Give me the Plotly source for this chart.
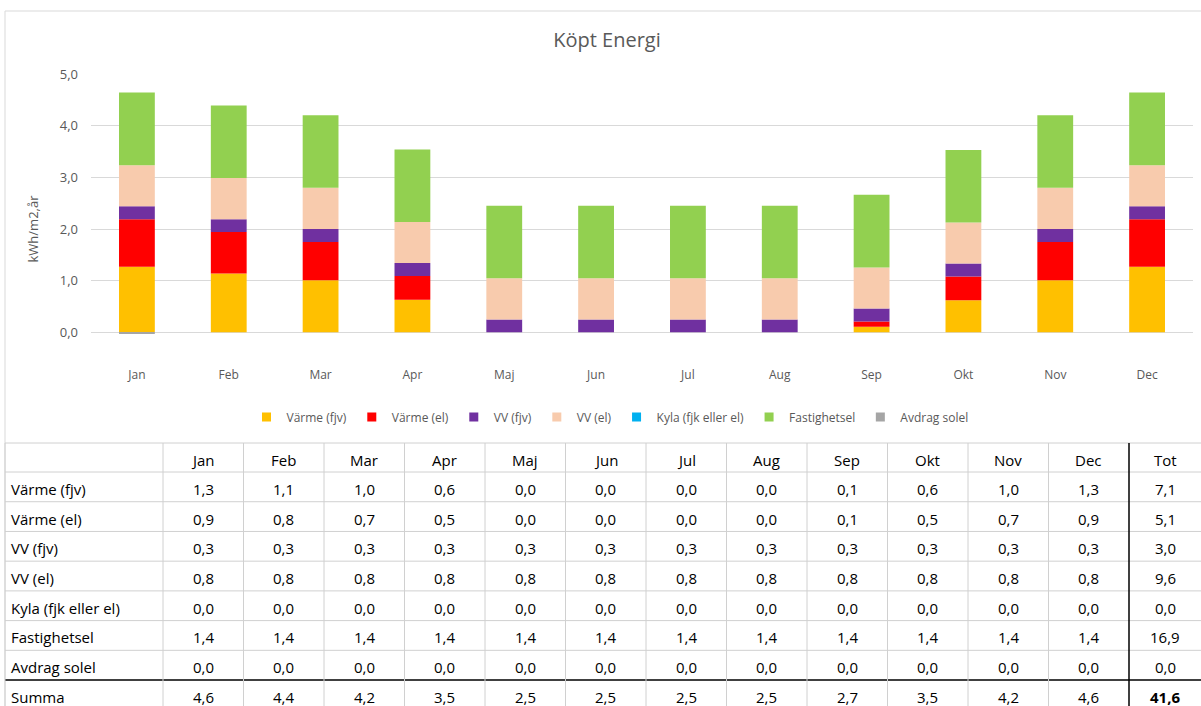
import math
import plotly.graph_objects as go

# ---------------- data ----------------
months = ["Jan", "Feb", "Mar", "Apr", "Maj", "Jun", "Jul", "Aug", "Sep", "Okt", "Nov", "Dec"]
series_names = ["Värme (fjv)", "Värme (el)", "VV (fjv)", "VV (el)",
                "Kyla (fjk eller el)", "Fastighetsel", "Avdrag solel"]
varme_fjv = [1.27, 1.14, 1.01, 0.63, 0.0, 0.0, 0.0, 0.0, 0.11, 0.62, 1.01, 1.27]
varme_el = [0.92, 0.80, 0.74, 0.46, 0.0, 0.0, 0.0, 0.0, 0.10, 0.46, 0.74, 0.92]
vv_fjv = [0.25, 0.25, 0.25, 0.25, 0.25, 0.25, 0.25, 0.25, 0.25, 0.25, 0.25, 0.25]
vv_el = [0.796, 0.796, 0.796, 0.796, 0.796, 0.796, 0.796, 0.796, 0.796, 0.796, 0.796, 0.796]
kyla = [0.0, 0.0, 0.0, 0.0, 0.0, 0.0, 0.0, 0.0, 0.0, 0.0, 0.0, 0.0]
fastighetsel = [1.405, 1.405, 1.405, 1.405, 1.405, 1.405, 1.405, 1.405, 1.405, 1.405, 1.405, 1.405]
avdrag_solel = [-0.03, 0.0, 0.0, 0.0, 0.0, 0.0, 0.0, 0.0, 0.0, 0.0, 0.0, 0.0]
colors = ["#FFC000", "#FF0000", "#7030A0", "#F8CBAD", "#00B0F0", "#92D050", "#A5A5A5"]
y_ticks = [-1, 0, 1, 2, 3, 4, 5]

all_series = [varme_fjv, varme_el, vv_fjv, vv_el, kyla, fastighetsel, avdrag_solel]

W, H = 1201, 706


def px(x):
    return x / W


def py(y):
    return 1 - y / H


def fmt(v):
    r = math.floor(abs(v) * 10 + 0.5 + 1e-9) / 10
    s = f"{r:.1f}"
    if v < 0 and r > 0:
        s = "-" + s
    return s.replace(".", ",")


fig = go.Figure()
for name, vals, col in zip(series_names, all_series, colors):
    fig.add_trace(go.Bar(x=months, y=vals, name=name, legendgroup=name, showlegend=False,
                         marker=dict(color=col, line=dict(width=0))))
# legend entries with small square swatches
for name, col in zip(series_names, colors):
    fig.add_trace(go.Scatter(x=[None], y=[None], mode="markers", name=name, legendgroup=name,
                             marker=dict(symbol="square", size=9, color=col)))

GREY = "#595959"
FONT = "Open Sans"

fig.update_layout(
    width=W, height=H,
    margin=dict(l=0, r=0, t=0, b=0),
    paper_bgcolor="white", plot_bgcolor="white",
    barmode="relative", bargap=0.61,
    separators=", ",
    font=dict(family=FONT, color=GREY, size=12),
    title=dict(text="Köpt Energi", x=px(607), xanchor="center", y=py(40), yanchor="middle",
               font=dict(size=20, color=GREY, family=FONT)),
    xaxis=dict(domain=[px(91), px(1193)], showline=False, ticks="", showgrid=False,
               ticklabelposition="inside", tickfont=dict(size=12, color=GREY)),
    yaxis=dict(domain=[py(384), py(74)], range=[-1, 5], tickvals=y_ticks, tickformat=".1f",
               showgrid=True, gridcolor="#D9D9D9", gridwidth=1, zeroline=True,
               zerolinecolor="#D9D9D9", zerolinewidth=1, showline=False, ticks="",
               ticklabelstandoff=12,
               tickfont=dict(size=13, color=GREY), automargin=False,
               title=dict(text="kWh/m2,år", font=dict(size=13, color=GREY), standoff=10)),
    legend=dict(orientation="h", x=px(610), xanchor="center", y=py(417), yanchor="middle",
                font=dict(size=12, color=GREY), traceorder="normal", itemwidth=30,
                tracegroupgap=0),
    showlegend=True,
)

shapes = []
# chart frame
shapes.append(dict(type="line", xref="paper", yref="paper", x0=px(5), x1=px(1210), y0=py(11), y1=py(11),
                   line=dict(color="#D9D9D9", width=1)))
shapes.append(dict(type="line", xref="paper", yref="paper", x0=px(5), x1=px(5), y0=py(11), y1=py(710),
                   line=dict(color="#D9D9D9", width=1)))

# ---------------- table ----------------
col_x = [5, 163] + [163 + 80.5 * k for k in range(1, 13)] + [1201]
row_y = [443, 472] + [472 + 29.72 * k for k in range(1, 8)] + [710]
LINE = "#D0D0D0"
for y in row_y[:-1]:
    dark = abs(y - 680) < 1
    shapes.append(dict(type="line", xref="paper", yref="paper", x0=px(5), x1=px(1210), y0=py(y), y1=py(y),
                       line=dict(color="#000000" if dark else LINE, width=1.5 if dark else 1)))
for i, x in enumerate(col_x[:-1]):
    dark = i == 13
    shapes.append(dict(type="line", xref="paper", yref="paper", x0=px(x), x1=px(x), y0=py(443), y1=py(710),
                       line=dict(color="#000000" if dark else LINE, width=1.5 if dark else 1)))

annotations = []
TFONT = dict(family=FONT, size=15, color="#000000")
header = months + ["Tot"]
for j, h in enumerate(header):
    cx = (col_x[j + 1] + col_x[j + 2]) / 2
    annotations.append(dict(x=px(cx), y=py((row_y[0] + row_y[1]) / 2 + 2), xref="paper", yref="paper",
                            text=h, showarrow=False, font=TFONT, xanchor="center", yanchor="middle"))

rows = []
for name, vals in zip(series_names, all_series):
    rows.append((name, vals + [sum(vals)], False))
sums = [sum(s[i] for s in all_series) for i in range(12)]
rows.append(("Summa", sums + [sum(sums)], True))

for r, (name, vals, is_sum) in enumerate(rows):
    cy = (row_y[r + 1] + row_y[r + 2]) / 2 + 2
    annotations.append(dict(x=px(9), y=py(cy), xref="paper", yref="paper", text=name, showarrow=False,
                            font=TFONT, xanchor="left", yanchor="middle"))
    for j, v in enumerate(vals):
        cx = (col_x[j + 1] + col_x[j + 2]) / 2
        txt = fmt(v)
        if is_sum and j == 12:
            txt = "<b>" + txt + "</b>"
        annotations.append(dict(x=px(cx), y=py(cy), xref="paper", yref="paper", text=txt, showarrow=False,
                                font=TFONT, xanchor="center", yanchor="middle"))

fig.update_layout(shapes=shapes, annotations=annotations)
fig.write_html("out.html", config={"displayModeBar": False},
               post_script="document.body.style.margin='0';document.body.style.overflow='hidden';")
